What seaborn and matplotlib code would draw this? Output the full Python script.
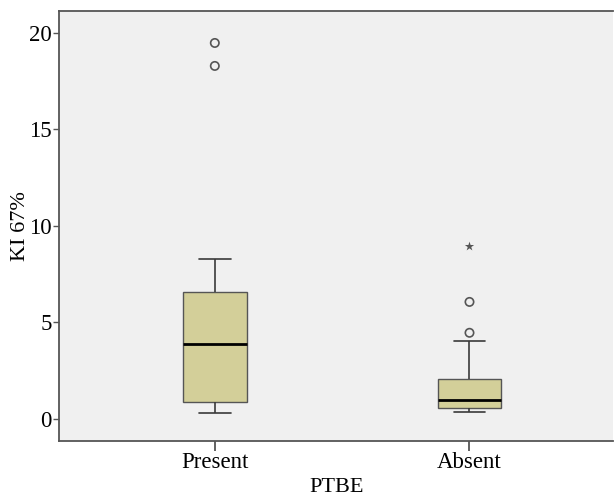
import numpy as np
import pandas as pd
import matplotlib
matplotlib.use('Agg')
import matplotlib.pyplot as plt
import seaborn as sns

# KI 67% values, one list per PTBE group
present_values = [0.31, 0.52, 0.7, 0.88, 1.6, 2.7, 3.89, 4.7, 5.6, 6.58, 8.29, 18.29, 19.48]
absent_values = [0.36, 0.4, 0.45, 0.5, 0.57, 0.65, 0.75, 0.88, 0.98, 1.2, 1.5, 1.8, 2.07,
                 4.04, 4.46, 6.06, 8.96]
groups = ['Present', 'Absent']
y_ticks = [0, 5, 10, 15, 20]

df = pd.DataFrame({
    'PTBE': ['Present'] * len(present_values) + ['Absent'] * len(absent_values),
    'KI 67%': present_values + absent_values,
})

# SPSS style: circles beyond 1.5 IQR, stars beyond 3 IQR
def outlier_kind(values):
    q1, q3 = np.percentile(values, [25, 75])
    iqr = q3 - q1
    kinds = []
    for v in values:
        if v > q3 + 3 * iqr or v < q1 - 3 * iqr:
            kinds.append('extreme')
        elif v > q3 + 1.5 * iqr or v < q1 - 1.5 * iqr:
            kinds.append('mild')
        else:
            kinds.append('')
    return kinds

df['kind'] = outlier_kind(present_values) + outlier_kind(absent_values)

sns.set_style('ticks')
plt.rcParams['font.family'] = ['Liberation Serif', 'DejaVu Serif']

fig = plt.figure(figsize=(6.14, 4.97), dpi=100)
ax = fig.add_axes([0.096, 0.113, 0.903, 0.865])
ax.set_facecolor('#f0f0f0')

edge = '#3a3a3a'
sns.boxplot(data=df, x='PTBE', y='KI 67%', order=groups, ax=ax, width=0.25,
            color='#d3cf99', showfliers=False, linewidth=1.0,
            boxprops=dict(edgecolor='#555555', facecolor='#d3cf99'),
            whiskerprops=dict(color=edge, linewidth=1.2),
            capprops=dict(color=edge, linewidth=1.2),
            medianprops=dict(color='black', linewidth=2.0))

mild = df[df['kind'] == 'mild']
extreme = df[df['kind'] == 'extreme']
sns.stripplot(data=mild, x='PTBE', y='KI 67%', order=groups, ax=ax, jitter=False,
              marker='o', size=6, color='none', edgecolor='#555555', linewidth=1.2)
sns.stripplot(data=extreme, x='PTBE', y='KI 67%', order=groups, ax=ax, jitter=False,
              marker='*', size=7, color='#555555', linewidth=0)

ax.set_xlim(-0.612, 1.565)
ax.set_ylim(-1.14, 21.14)
ax.set_yticks(y_ticks)
ax.set_yticklabels([str(t) for t in y_ticks])

for s in ['left', 'bottom', 'top']:
    ax.spines[s].set_color('#555555')
    ax.spines[s].set_linewidth(1.3)
ax.spines['right'].set_visible(False)

ax.tick_params(axis='y', length=4, width=1, color='#555555', labelsize=16.5,
               labelcolor='black', pad=1)
ax.tick_params(axis='x', length=7, width=1.3, color='#555555', labelsize=16.5,
               labelcolor='black', pad=1)
ax.set_xlabel('PTBE', fontsize=16, labelpad=3.5, color='black')
ax.set_ylabel('KI 67%', fontsize=16, labelpad=-0.5, color='black')

fig.savefig('out.png', dpi=100)
